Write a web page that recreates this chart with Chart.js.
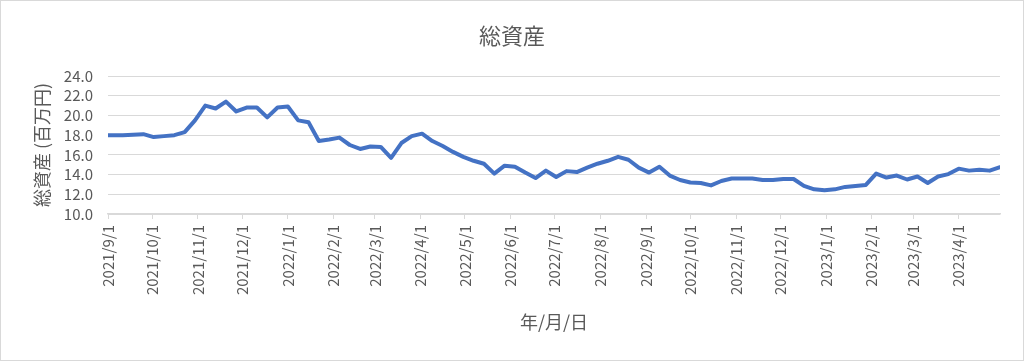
<!DOCTYPE html>
<html lang="ja">
<head>
<meta charset="utf-8">
<title>総資産</title>
<script src="https://cdn.jsdelivr.net/npm/chart.js@4.4.0/dist/chart.umd.min.js"></script>
<style>
  html, body { margin: 0; padding: 0; background: #fff; }
  #wrap { width: 1024px; height: 361px; position: relative; }
</style>
</head>
<body>
<div id="wrap"><canvas id="assetChart"></canvas></div>
<script>
// 週次（土曜）の日付、先頭だけ 2021/9/1
const dates = [
  '2021/9/1',
  '2021/9/4', '2021/9/11', '2021/9/18', '2021/9/25', '2021/10/2', '2021/10/9', '2021/10/16', '2021/10/23', '2021/10/30',
  '2021/11/6', '2021/11/13', '2021/11/20', '2021/11/27', '2021/12/4', '2021/12/11', '2021/12/18', '2021/12/25',
  '2022/1/1', '2022/1/8', '2022/1/15', '2022/1/22', '2022/1/29', '2022/2/5', '2022/2/12', '2022/2/19', '2022/2/26',
  '2022/3/5', '2022/3/12', '2022/3/19', '2022/3/26', '2022/4/2', '2022/4/9', '2022/4/16', '2022/4/23', '2022/4/30',
  '2022/5/7', '2022/5/14', '2022/5/21', '2022/5/28', '2022/6/4', '2022/6/11', '2022/6/18', '2022/6/25',
  '2022/7/2', '2022/7/9', '2022/7/16', '2022/7/23', '2022/7/30', '2022/8/6', '2022/8/13', '2022/8/20', '2022/8/27',
  '2022/9/3', '2022/9/10', '2022/9/17', '2022/9/24', '2022/10/1', '2022/10/8', '2022/10/15', '2022/10/22', '2022/10/29',
  '2022/11/5', '2022/11/12', '2022/11/19', '2022/11/26', '2022/12/3', '2022/12/10', '2022/12/17', '2022/12/24', '2022/12/31',
  '2023/1/7', '2023/1/14', '2023/1/21', '2023/1/28', '2023/2/4', '2023/2/11', '2023/2/18', '2023/2/25',
  '2023/3/4', '2023/3/11', '2023/3/18', '2023/3/25', '2023/4/1', '2023/4/8', '2023/4/15', '2023/4/22', '2023/4/29'
];

// 総資産（百万円）
const totalAssets = [
  18.0,
  18.0, 18.0, 18.05, 18.1, 17.8, 17.9, 18.0, 18.3, 19.5,
  21.0, 20.7, 21.4, 20.4, 20.8, 20.8, 19.8, 20.8,
  20.9, 19.5, 19.3, 17.4, 17.55, 17.75, 17.0, 16.6, 16.85,
  16.8, 15.7, 17.2, 17.9, 18.15, 17.4, 16.9, 16.3, 15.8,
  15.4, 15.1, 14.1, 14.9, 14.8, 14.2, 13.65, 14.4,
  13.75, 14.35, 14.25, 14.7, 15.1, 15.4, 15.8, 15.5, 14.7,
  14.2, 14.8, 13.9, 13.45, 13.2, 13.15, 12.9, 13.35, 13.6,
  13.6, 13.6, 13.45, 13.45, 13.55, 13.55, 12.85, 12.5, 12.4,
  12.5, 12.75, 12.85, 12.95, 14.1, 13.7, 13.9, 13.5,
  13.8, 13.15, 13.8, 14.05, 14.6, 14.4, 14.5, 14.4, 14.75
];

// x 軸の目盛りラベル（月初）
const monthTicks = [
  '2021/9/1', '2021/10/1', '2021/11/1', '2021/12/1', '2022/1/1', '2022/2/1', '2022/3/1',
  '2022/4/1', '2022/5/1', '2022/6/1', '2022/7/1', '2022/8/1', '2022/9/1', '2022/10/1',
  '2022/11/1', '2022/12/1', '2023/1/1', '2023/2/1', '2023/3/1', '2023/4/1'
];

// y 軸の目盛り
const yTicks = [10, 12, 14, 16, 18, 20, 22, 24];

const textColor = '#595959';
const gridColor = '#d9d9d9';
Chart.defaults.font.family = '"Noto Sans CJK JP", "Noto Sans", sans-serif';

function toDay(s) {
  const [y, m, d] = s.split('/').map(Number);
  const [y0, m0, d0] = dates[0].split('/').map(Number);
  return (Date.UTC(y, m - 1, d) - Date.UTC(y0, m0 - 1, d0)) / 86400000;
}

const points = dates.map((d, i) => ({ x: toDay(d), y: totalAssets[i] }));

// 背景と外枠
const frame = {
  id: 'frame',
  beforeDraw(chart) {
    const c = chart.ctx;
    c.save();
    c.fillStyle = '#fff';
    c.fillRect(0, 0, chart.width, chart.height);
    c.restore();
  },
  afterDraw(chart) {
    const c = chart.ctx;
    c.save();
    c.strokeStyle = gridColor;
    c.lineWidth = 1;
    c.strokeRect(0.5, 0.5, chart.width - 1, chart.height - 1);
    c.restore();
  }
};

const ctx = document.getElementById('assetChart').getContext('2d');
new Chart(ctx, {
  type: 'line',
  data: {
    datasets: [{
      label: '総資産',
      data: points,
      borderColor: '#4472C4',
      borderWidth: 4,
      pointRadius: 0,
      tension: 0,
      fill: false,
      borderJoinStyle: 'round',
      borderCapStyle: 'round'
    }]
  },
  options: {
    responsive: true,
    maintainAspectRatio: false,
    animation: false,
    layout: { padding: 0 },
    plugins: {
      legend: { display: false },
      tooltip: { enabled: false },
      title: {
        display: true,
        text: '総資産',
        color: textColor,
        font: { size: 22, weight: 'normal' },
        padding: { top: 22, bottom: 27.6 }
      }
    },
    scales: {
      x: {
        type: 'linear',
        min: 0,
        max: toDay(dates[dates.length - 1]),
        afterBuildTicks: (scale) => {
          scale.ticks = monthTicks.map(t => ({ value: toDay(t) }));
        },
        afterFit: (scale) => {
          scale.height = 147;
          scale.paddingRight = 24;
        },
        ticks: {
          autoSkip: false,
          maxRotation: 90,
          minRotation: 90,
          padding: 6,
          color: textColor,
          font: { size: 15 },
          callback: (value, index) => monthTicks[index]
        },
        grid: {
          drawOnChartArea: false,
          drawTicks: true,
          tickLength: 5,
          color: gridColor
        },
        border: { color: gridColor, width: 1.5 },
        title: {
          display: true,
          text: '年/月/日',
          color: textColor,
          font: { size: 18 },
          padding: { top: 0, bottom: 28 }
        }
      },
      y: {
        min: yTicks[0],
        max: yTicks[yTicks.length - 1],
        afterBuildTicks: (scale) => {
          scale.ticks = yTicks.map(v => ({ value: v }));
        },
        afterFit: (scale) => { scale.width = 108; },
        ticks: {
          autoSkip: false,
          padding: 15,
          color: textColor,
          font: { size: 15 },
          callback: (value) => value.toFixed(1)
        },
        grid: { color: gridColor, drawTicks: false },
        border: { display: false },
        title: {
          display: true,
          text: '総資産 (百万円)',
          color: textColor,
          font: { size: 18 },
          padding: { top: 31, bottom: 0 }
        }
      }
    }
  },
  plugins: [frame]
});
</script>
</body>
</html>
